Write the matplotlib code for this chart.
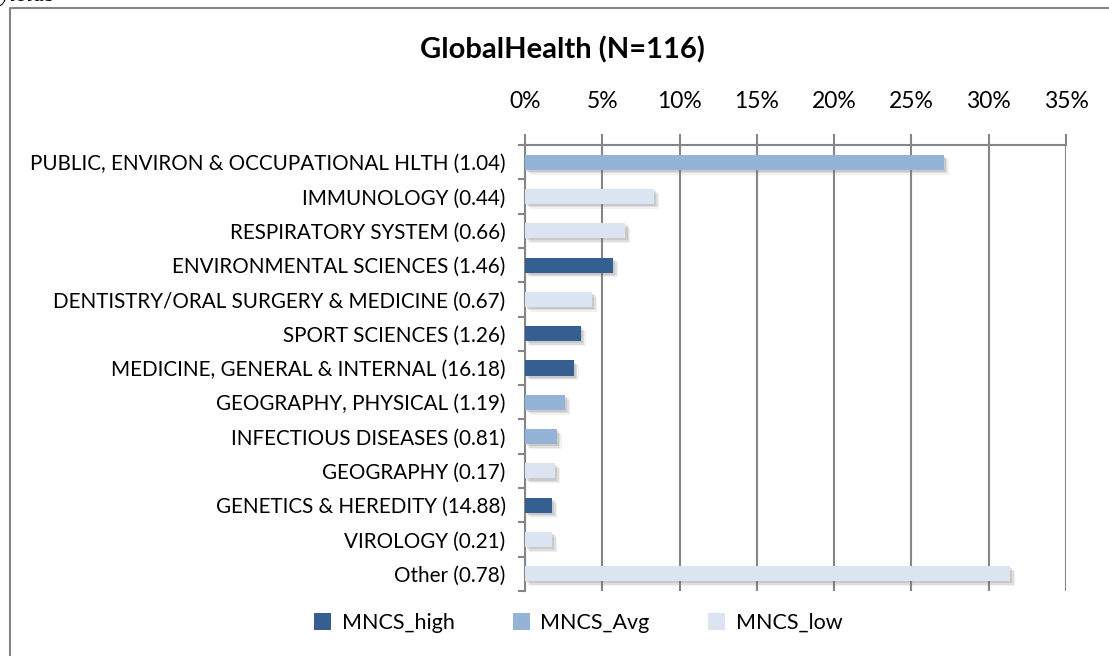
import matplotlib
matplotlib.use("Agg")
import matplotlib.pyplot as plt
import matplotlib.patheffects as pe
from matplotlib.lines import Line2D
from matplotlib.patches import Patch
from matplotlib.ticker import PercentFormatter

plt.rcParams['font.family'] = ['Lato', 'DejaVu Sans']

# data
categories = [
    "PUBLIC, ENVIRON & OCCUPATIONAL HLTH (1.04)",
    "IMMUNOLOGY (0.44)",
    "RESPIRATORY SYSTEM (0.66)",
    "ENVIRONMENTAL SCIENCES (1.46)",
    "DENTISTRY/ORAL SURGERY & MEDICINE (0.67)",
    "SPORT SCIENCES (1.26)",
    "MEDICINE, GENERAL & INTERNAL (16.18)",
    "GEOGRAPHY, PHYSICAL (1.19)",
    "INFECTIOUS DISEASES (0.81)",
    "GEOGRAPHY (0.17)",
    "GENETICS & HEREDITY (14.88)",
    "VIROLOGY (0.21)",
    "Other (0.78)",
]
shares = [27.1, 8.35, 6.5, 5.7, 4.35, 3.6, 3.15, 2.6, 2.05, 1.95, 1.75, 1.75, 31.4]
groups = ["Avg", "low", "low", "high", "low", "high", "high", "Avg", "Avg",
          "low", "high", "low", "low"]
xticks = [0, 5, 10, 15, 20, 25, 30, 35]
title = "GlobalHealth (N=116)"

palette = {"high": "#365F91", "Avg": "#95B3D7", "low": "#DBE5F1"}
legend_names = {"high": "MNCS_high", "Avg": "MNCS_Avg", "low": "MNCS_low"}
grey = "#868686"

fig = plt.figure(figsize=(11.09, 6.56), dpi=100)
ax = fig.add_axes([525 / 1109, 1 - 591 / 656, 541 / 1109, 446 / 656])

ypos = list(range(len(categories)))
bars = ax.barh(ypos, shares, height=0.44, color=[palette[g] for g in groups],
               zorder=3)
# soft drop shadow, built from a few offset layers
for b in bars:
    b.set_path_effects([
        pe.SimplePatchShadow(offset=(3.5, -3.5), shadow_rgbFace="#777777", alpha=0.10),
        pe.SimplePatchShadow(offset=(2.5, -2.5), shadow_rgbFace="#777777", alpha=0.15),
        pe.SimplePatchShadow(offset=(1.5, -1.5), shadow_rgbFace="#777777", alpha=0.20),
        pe.Normal()])

ax.set_xlim(0, 35)
ax.set_ylim(len(categories) - 0.5, -0.5)
ax.set_xticks(xticks)
ax.xaxis.set_major_formatter(PercentFormatter(decimals=0))
ax.xaxis.tick_top()
ax.tick_params(axis="x", length=8, width=1.5, color=grey, pad=16, labelsize=16.5)
ax.grid(axis="x", color=grey, linewidth=1.5, zorder=0)

ax.set_yticks(ypos)
ax.set_yticklabels(categories)
ax.tick_params(axis="y", length=0, pad=14, labelsize=14.9)
ax.set_yticks([i - 0.5 for i in range(len(categories) + 1)], minor=True)
ax.tick_params(axis="y", which="minor", length=5, width=1.5, color=grey)

for side in ["right", "bottom"]:
    ax.spines[side].set_visible(False)
for side in ["left", "top"]:
    ax.spines[side].set_color(grey)
    ax.spines[side].set_linewidth(1.5)

fig.text(562 / 1109, 1 - 50 / 656, title, ha="center", va="center",
         fontsize=21, fontweight="bold")

handles = [Patch(facecolor=palette[k], label=legend_names[k]) for k in ["high", "Avg", "low"]]
fig.legend(handles=handles, loc="center", bbox_to_anchor=(578 / 1109, 1 - 623 / 656),
           ncol=3, frameon=False, fontsize=15.5, handlelength=0.8, handleheight=0.8,
           columnspacing=2.7, handletextpad=0.5)

# chart frame and clipped text above it
fig.add_artist(Line2D([10 / 1109, 10 / 1109, 1.0], [0.0, 1 - 8 / 656, 1 - 8 / 656],
                      color=grey, linewidth=1.5))
fig.text(0.0, 1 - 1 / 656, "yields", fontsize=17, family="Liberation Serif",
         style="italic", va="baseline")

fig.savefig("out.png", dpi=100)
